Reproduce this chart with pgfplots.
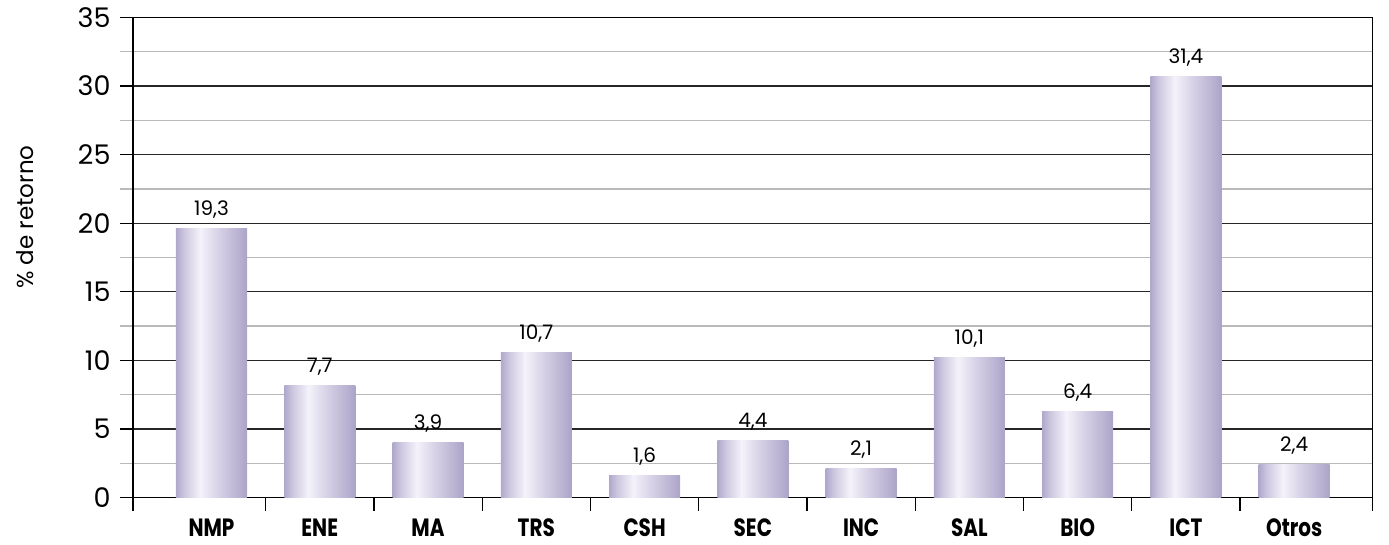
\documentclass[border=0pt]{standalone}
\usepackage{fontspec}
\setmainfont{Poppins}
\newfontfamily\xlabfont[FakeStretch=0.8]{Poppins}
\usepackage{pgfplots}
\pgfplotsset{compat=1.18}
\definecolor{barL}{RGB}{176,168,204}
\definecolor{barM}{RGB}{206,200,224}
\definecolor{barH}{RGB}{244,242,250}
\definecolor{barK}{RGB}{214,209,230}
\definecolor{barR}{RGB}{172,164,200}
\definecolor{gridmin}{RGB}{185,185,185}
% horizontal shading, the bar is fitted to the middle 25bp..75bp
\pgfdeclarehorizontalshading{barshade}{100bp}{color(0bp)=(barL); color(25bp)=(barL); color(31bp)=(barM); color(42bp)=(barH); color(55bp)=(barK); color(75bp)=(barR); color(100bp)=(barR)}

\pgfplotstableread{
x  y     lab
0  19.6  19,3
1  8.2   7,7
2  4.0   3,9
3  10.6  10,7
4  1.6   1,6
5  4.2   4,4
6  2.1   2,1
7  10.2  10,1
8  6.3   6,4
9  30.7  31,4
10 2.4   2,4
}\datatable

\begin{document}
\begin{tikzpicture}
\path[use as bounding box] (0,0) rectangle (1389pt,544pt);
\begin{axis}[
    at={(133pt,46.3pt)}, anchor=south west,
    scale only axis,
    width=1239.7pt, height=480.4pt,
    xmin=-0.725, xmax=10.725,
    ymin=0, ymax=35,
    ytick={0,5,...,35},
    minor ytick={2.5,7.5,...,32.5},
    ymajorgrids, yminorgrids,
    major grid style={draw=black!85, line width=1.2pt},
    minor grid style={draw=gridmin, line width=1.4pt},
    tick align=outside,
    xtick pos=bottom, ytick pos=left,
    major tick length=13pt,
    minor tick length=13pt,
    major tick style={black, line width=1.2pt},
    minor tick style={gridmin, line width=1.4pt},
    axis line style={black, line width=1.3pt},
    xtick={-0.725,0.5,1.5,...,9.5,10.725},
    xticklabels={},
    extra x ticks={0,1,...,10},
    extra x tick labels={NMP,ENE,MA,TRS,CSH,SEC,INC,SAL,BIO,ICT,Otros},
    extra x tick style={tick style={draw=none},
        tick label style={font=\xlabfont\bfseries\fontsize{25}{30}\selectfont, anchor=base, inner sep=0pt, yshift=-26pt}},
    /pgf/number format/assume math mode=true,
    yticklabel style={font=\fontsize{27}{32}\selectfont, xshift=-6pt},
    ylabel={\% de retorno},
    ylabel style={font=\fontsize{23}{28}\selectfont, at={(axis description cs:-0.0871,0.584)}, anchor=center},
]
\pgfplotsinvokeforeach{0,...,10}{
\addplot[ybar, bar width=0.656, draw=none, shading=barshade,
    restrict x to domain=#1:#1,
    nodes near coords, point meta=explicit symbolic,
    every node near coord/.append style={font=\fontsize{20}{24}\selectfont, anchor=base, inner sep=0pt, yshift=13pt, black}]
    table[x=x, y=y, meta=lab] {\datatable};
}
\end{axis}
\end{tikzpicture}
\end{document}
